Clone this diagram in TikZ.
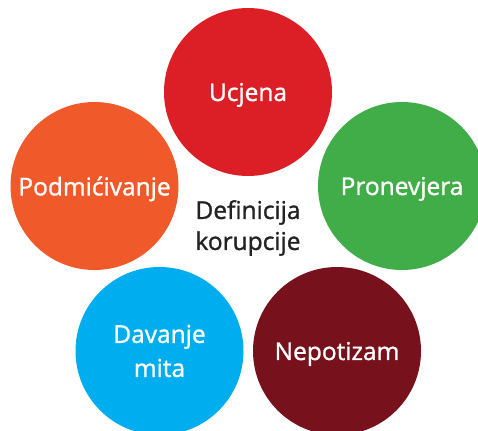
\documentclass[tikz,border=0pt]{standalone}
\usepackage{fontspec}
\setmainfont{Open Sans}
\newfontfamily\semibold{Open Sans}[FakeBold=1.2]
\usepackage{tikz}
\usetikzlibrary{positioning}
\definecolor{ucjenared}{HTML}{DC1F26}
\definecolor{podmorange}{HTML}{F05A2A}
\definecolor{pronegreen}{HTML}{41AD49}
\definecolor{davblue}{HTML}{00AEEF}
\definecolor{nepodark}{HTML}{77111C}
\definecolor{centergray}{HTML}{222222}
\begin{document}
\begin{tikzpicture}[x=1pt, y=-1pt, main node/.style={circle,minimum size=168pt,inner sep=0pt,text=white,align=center,font=\fontsize{24.5}{34}\semibold}]
\useasboundingbox (0,0) rectangle (478,430);
\clip (0,0) rectangle (478,430);
\begin{scope}[every node/.append style={text depth=0pt}]
\node[main node,fill=ucjenared] (ucjena) at (248,92) {Ucjena};
\node[main node,fill=podmorange] (podm) at (94.5,186) {Podmićivanje};
\node[main node,fill=pronegreen] (pron) at (402,186) {Pronevjera};
\node[main node,fill=nepodark] (nepo) at (337,351) {Nepotizam};
\end{scope}
\node[main node,fill=davblue] (davanje) at (159.5,351) {Davanje\\mita};
\node[align=center,text=centergray,font=\fontsize{24.5}{31}\semibold] (def) at (248,228) {Definicija\\korupcije};
\end{tikzpicture}
\end{document}
